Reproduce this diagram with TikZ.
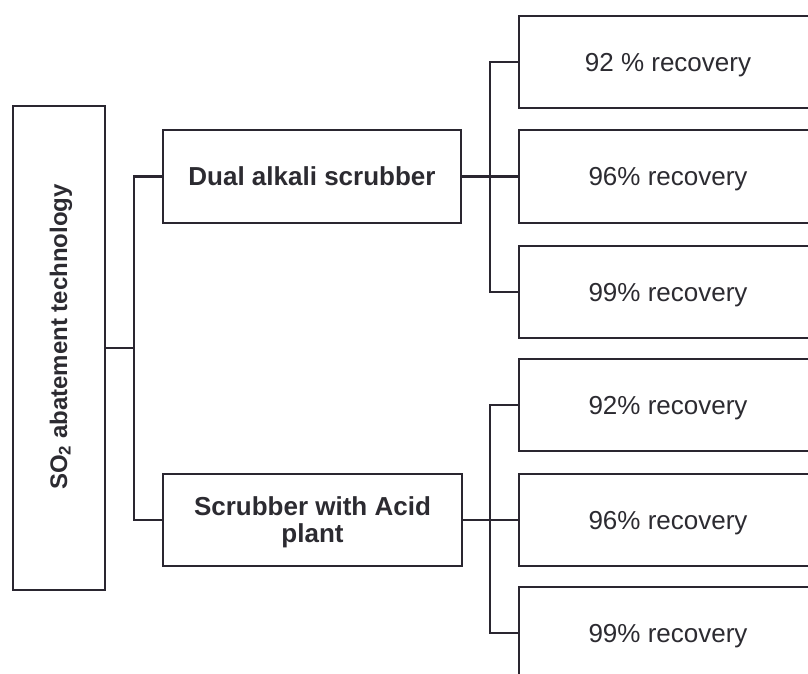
\documentclass[tikz,border=0pt]{standalone}
\usepackage{fontspec}
\setmainfont{Liberation Sans}
\definecolor{linec}{HTML}{2A2630}
\definecolor{textc}{HTML}{2C2B31}
\begin{document}
\begin{tikzpicture}[x=1pt,y=-1pt,
  box/.style={draw=linec, line width=2.3pt, fill=white, rectangle, inner sep=0pt, text=textc},
  conn/.style={draw=linec, line width=2.3pt},
  bigtext/.style={font=\fontsize{26}{27}\selectfont\bfseries, align=center, text height=18.6pt, text depth=0pt},
  rectext/.style={font=\fontsize{26}{27}\selectfont, text height=18.6pt, text depth=0pt}]
\useasboundingbox (0,0) rectangle (808,674);
\fill[white] (0,0) rectangle (808,674);
\clip (0,0) rectangle (808,674);
% left box
\node[box, minimum width=92pt, minimum height=484pt] (L) at (59,348) {};
\node[rotate=90, anchor=base, text=textc, font=\fontsize{24}{26}\selectfont\bfseries] (Lt) at (67,337) {SO\textsubscript{2} abatement technology};
% middle boxes
\node[box, bigtext, minimum width=298pt, minimum height=93pt] (D) at (312,176.5) {Dual alkali scrubber};
\node[box, bigtext, text height=45.6pt, minimum width=299pt, minimum height=92pt] (S) at (312.5,520) {Scrubber with Acid\\plant};
% right boxes
\node[box, rectext, minimum width=298pt, minimum height=92pt] (R1) at (668,62) {92 \% recovery};
\node[box, rectext, minimum width=298pt, minimum height=93pt] (R2) at (668,176.5) {96\% recovery};
\node[box, rectext, minimum width=298pt, minimum height=92pt] (R3) at (668,292) {99\% recovery};
\node[box, rectext, minimum width=298pt, minimum height=92pt] (R4) at (668,405) {92\% recovery};
\node[box, rectext, minimum width=298pt, minimum height=92pt] (R5) at (668,520) {96\% recovery};
\node[box, rectext, minimum width=298pt, minimum height=92pt] (R6) at (668,633) {99\% recovery};
% junctions
\coordinate (t1) at (134,348);
\coordinate (t2) at (490,176.5);
\coordinate (t3) at (490,520);
% connectors
\draw[conn] (L.east) -- (t1);
\draw[conn] (D.west) -| (t1);
\draw[conn] (S.west) -| (t1);
\draw[conn] (D.east) -- (R2.west);
\draw[conn] (R1.west) -| (t2);
\draw[conn] (R3.west) -| (t2);
\draw[conn] (S.east) -- (R5.west);
\draw[conn] (R4.west) -| (t3);
\draw[conn] (R6.west) -| (t3);
\end{tikzpicture}
\end{document}
